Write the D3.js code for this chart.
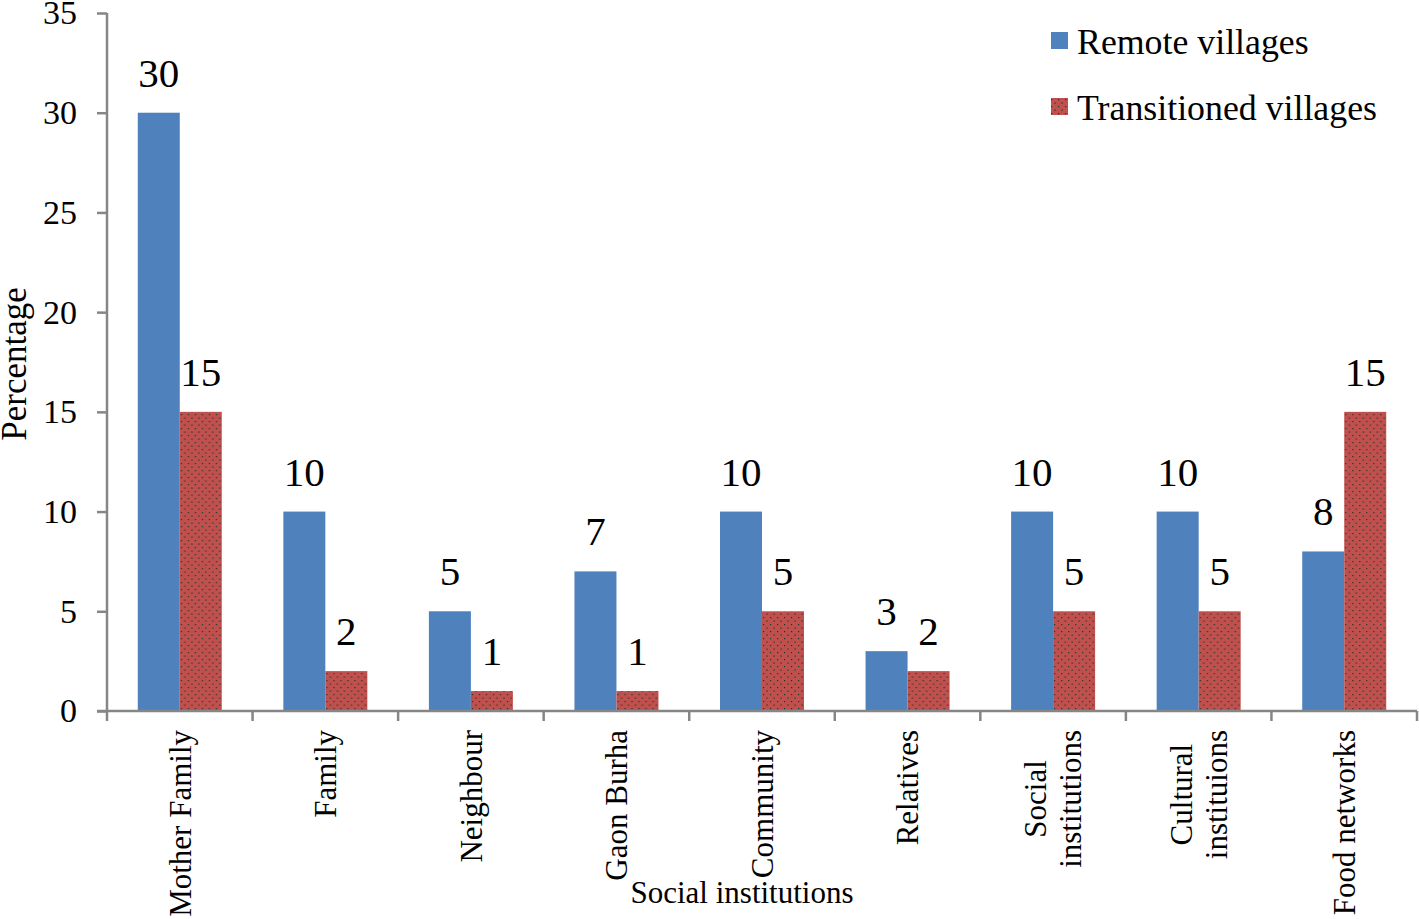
<!DOCTYPE html>
<html>
<head>
<meta charset="utf-8">
<script src="https://cdn.jsdelivr.net/npm/d3@7"></script>
<style>
  html, body { margin: 0; padding: 0; background: #ffffff; }
  svg { display: block; }
  text { font-family: "Liberation Serif", "Times New Roman", serif; fill: #000; }
</style>
</head>
<body>
<svg id="chart" width="1419" height="919"></svg>
<script>
// ---- data ----
const categories = ["Mother Family", "Family", "Neighbour", "Gaon Burha", "Community",
                    "Relatives", "Social institutions", "Cultural instituions", "Food networks"];
const categoryLines = [["Mother Family"], ["Family"], ["Neighbour"], ["Gaon Burha"], ["Community"],
                       ["Relatives"], ["Social", "institutions"], ["Cultural", "instituions"], ["Food networks"]];
const seriesNames = ["Remote villages", "Transitioned villages"];
const remote = [30, 10, 5, 7, 10, 3, 10, 10, 8];
const transitioned = [15, 2, 1, 1, 5, 2, 5, 5, 15];
const yTicks = [0, 5, 10, 15, 20, 25, 30, 35];
const yTitle = "Percentage";
const xTitle = "Social institutions";

(function () {
// ---- layout ----
const svg = d3.select("#chart");
const pLeft = 107, pRight = 1417, pTop = 13, pBottom = 711;
const axisColor = "#868686";
const colors = ["#4F81BD", "#C0504D"];

const x = d3.scaleBand().domain(categories).range([pLeft, pRight]).padding(0);
const y = d3.scaleLinear().domain([0, 35]).range([pBottom, pTop]);
const barW = 42;
const sub = d3.scaleBand().domain(seriesNames).range([-barW, barW]).padding(0);

// pattern for transitioned bars
const defs = svg.append("defs");
const pat = defs.append("pattern").attr("id", "dots").attr("patternUnits", "userSpaceOnUse")
  .attr("width", 7).attr("height", 7);
pat.append("rect").attr("width", 7).attr("height", 7).attr("fill", colors[1]);
pat.append("rect").attr("x", 1).attr("y", 1).attr("width", 1.2).attr("height", 1.2).attr("fill", "#16392b");
pat.append("rect").attr("x", 4.5).attr("y", 4.5).attr("width", 1.2).attr("height", 1.2).attr("fill", "#16392b");
const fills = [colors[0], "url(#dots)"];

const data = categories.map((c, i) => ({ cat: c, vals: [remote[i], transitioned[i]] }));

// bars
const groups = svg.append("g").selectAll("g").data(data).join("g")
  .attr("transform", d => `translate(${x(d.cat) + x.bandwidth() / 2},0)`);
groups.selectAll("rect").data(d => d.vals.map((v, k) => ({ v, k }))).join("rect")
  .attr("x", d => sub(seriesNames[d.k]))
  .attr("y", d => y(d.v))
  .attr("width", sub.bandwidth())
  .attr("height", d => y(0) - y(d.v))
  .attr("fill", d => fills[d.k]);

// data labels
groups.selectAll("text.val").data(d => d.vals.map((v, k) => ({ v, k }))).join("text")
  .attr("class", "val")
  .attr("x", d => sub(seriesNames[d.k]) + sub.bandwidth() / 2)
  .attr("y", d => y(d.v) - 26)
  .attr("text-anchor", "middle")
  .style("font-size", "41px")
  .text(d => d.v);

// y axis
const yAxis = svg.append("g").attr("transform", `translate(${pLeft},0)`)
  .call(d3.axisLeft(y).tickValues(yTicks).tickSize(10).tickPadding(20));
yAxis.select(".domain").attr("stroke", axisColor).attr("stroke-width", 2.5)
  .attr("d", `M0,${pTop}V${pBottom}`);
yAxis.selectAll(".tick line").attr("stroke", axisColor).attr("stroke-width", 2.5);
yAxis.selectAll(".tick text").style("font-size", "34px")
  .style("font-family", '"Liberation Serif", "Times New Roman", serif').attr("fill", "#000");

// x axis
const xAx = svg.append("g");
xAx.append("line").attr("x1", pLeft - 10).attr("x2", pRight).attr("y1", pBottom).attr("y2", pBottom)
  .attr("stroke", axisColor).attr("stroke-width", 2.5);
const bounds = categories.map(c => x(c)).concat([pRight]);
xAx.selectAll("line.tk").data(bounds).join("line").attr("class", "tk")
  .attr("x1", d => d).attr("x2", d => d).attr("y1", pBottom).attr("y2", pBottom + 10)
  .attr("stroke", axisColor).attr("stroke-width", 2.5);

// category labels (rotated)
const labelTop = 730, lineGap = 35, catFont = 31;
categoryLines.forEach((lines, i) => {
  const cx = x(categories[i]) + x.bandwidth() / 2;
  const g = svg.append("g");
  const texts = lines.map((ln, j) => {
    const off = (j - (lines.length - 1) / 2) * lineGap;
    return g.append("text")
      .attr("text-anchor", "middle")
      .attr("dy", "0.35em")
      .style("font-size", catFont + "px")
      .attr("data-off", off)
      .text(ln);
  });
  const maxLen = d3.max(texts, t => t.node().getComputedTextLength());
  const cy = labelTop + maxLen / 2;
  texts.forEach(t => {
    const off = +t.attr("data-off");
    t.attr("transform", `translate(${cx + off},${cy}) rotate(-90)`);
  });
});

// axis titles
svg.append("text").attr("x", 742).attr("y", 903).attr("text-anchor", "middle")
  .style("font-size", "31px").text(xTitle);
svg.append("text").attr("transform", `translate(26,364) rotate(-90)`).attr("text-anchor", "middle")
  .style("font-size", "35px").text(yTitle);

// legend
const legend = svg.append("g");
seriesNames.forEach((s, i) => {
  const ly = 41 + i * 66;
  legend.append("rect").attr("x", 1051).attr("y", ly - 9).attr("width", 17).attr("height", 17)
    .attr("fill", fills[i]);
  legend.append("text").attr("x", 1077).attr("y", ly).attr("dy", "0.35em")
    .style("font-size", "35.8px").text(s);
});
})();
</script>
</body>
</html>
